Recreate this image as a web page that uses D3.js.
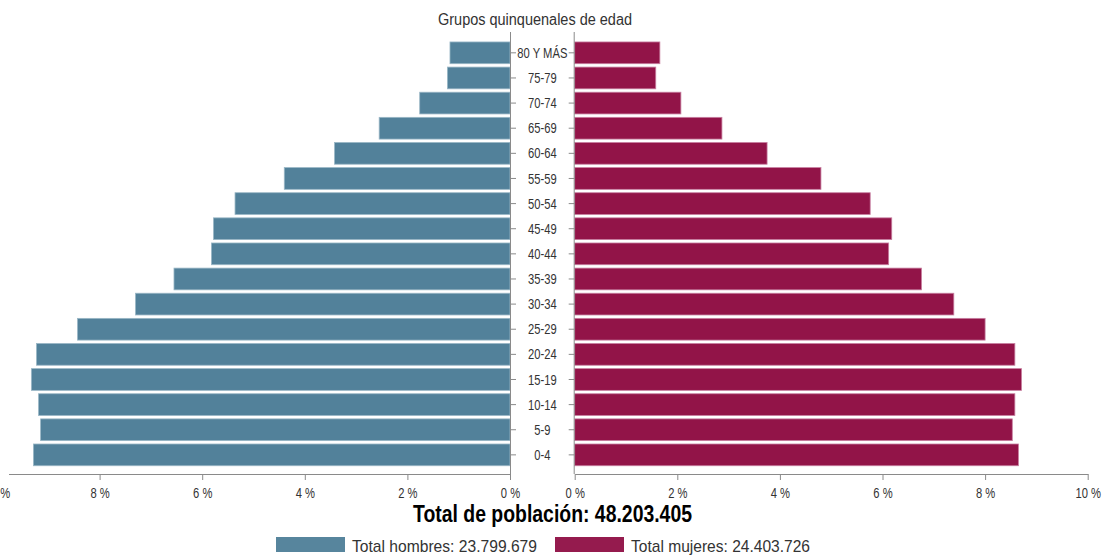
<!DOCTYPE html>
<html><head><meta charset="utf-8">
<script src="https://cdn.jsdelivr.net/npm/d3@7"></script>
<style>
html,body{margin:0;padding:0;background:#fff;}
svg{display:block;}
text{font-family:"Liberation Sans",Arial,sans-serif;}
</style></head>
<body>
<svg id="chart" width="1108" height="559"></svg>
<script>
const ageGroups = ["80 Y MÁS","75-79","70-74","65-69","60-64","55-59","50-54","45-49","40-44","35-39","30-34","25-29","20-24","15-19","10-14","5-9","0-4"];
const hombres = [1.17,1.22,1.76,2.55,3.42,4.40,5.36,5.78,5.82,6.55,7.30,8.43,9.23,9.33,9.19,9.15,9.29];
const mujeres = [1.66,1.58,2.07,2.87,3.75,4.80,5.76,6.18,6.12,6.76,7.39,8.00,8.58,8.71,8.58,8.53,8.65];
const xTicks = [0,2,4,6,8,10];
const chartTitle = "Grupos quinquenales de edad";
const totalLabel = "Total de población: 48.203.405";
const legendLabels = ["Total hombres: 23.799.679","Total mujeres: 24.403.726"];
const colors = {h:"#52819a", m:"#921448"};

const svg = d3.select("#chart");
const axisY = 474, topY = 32;
const xLeft = d3.scaleLinear().domain([0,10]).range([510,-3]);
const xRight = d3.scaleLinear().domain([0,10]).range([574.7,1087.7]);
const y = d3.scaleBand().domain(ageGroups).range([40.2,467.5]).paddingInner(0.135).paddingOuter(0.07);

function narrow(sel, factor){
  sel.each(function(){
    const len = this.getComputedTextLength();
    if(len>0) d3.select(this).attr("textLength",len*factor).attr("lengthAdjust","spacingAndGlyphs");
  });
}
function fitTo(sel, width){
  sel.attr("textLength",width).attr("lengthAdjust","spacingAndGlyphs");
}

// bars
svg.append("g").selectAll("rect").data(ageGroups).join("rect")
  .attr("x",(d,i)=>xLeft(hombres[i])).attr("y",d=>y(d))
  .attr("width",(d,i)=>xLeft(0)-xLeft(hombres[i])).attr("height",y.bandwidth())
  .attr("fill",colors.h).attr("stroke","#9ab7c6").attr("stroke-width",0.8);
svg.append("g").selectAll("rect").data(ageGroups).join("rect")
  .attr("x",xRight(0)).attr("y",d=>y(d))
  .attr("width",(d,i)=>xRight(mujeres[i])-xRight(0)).attr("height",y.bandwidth())
  .attr("fill",colors.m).attr("stroke","#c77fa0").attr("stroke-width",0.8);

const axisColor = "#8a8a8a", textColor = "#333";
function styleAxis(g){
  g.selectAll("path,line").attr("stroke",axisColor);
  g.selectAll("text").attr("fill",textColor).attr("font-size",14);
}
// bottom axes
const gl = svg.append("g").attr("transform",`translate(0,${axisY})`)
  .call(d3.axisBottom(xLeft).tickValues(xTicks).tickSize(6).tickSizeOuter(0).tickFormat(d=>d+" %"));
styleAxis(gl);
gl.select(".domain").attr("d",`M9,0.5H${xLeft(0)}`);
gl.selectAll("text").attr("dy","1.05em");
narrow(gl.selectAll("text"),0.8);
const gr = svg.append("g").attr("transform",`translate(0,${axisY})`)
  .call(d3.axisBottom(xRight).tickValues(xTicks).tickSize(6).tickSizeOuter(0).tickFormat(d=>d+" %"));
styleAxis(gr);
gr.selectAll("text").attr("dy","1.05em");
narrow(gr.selectAll("text"),0.8);

// vertical axes
const yl = svg.append("g").attr("transform",`translate(${xLeft(0)},0)`)
  .call(d3.axisRight(y).tickSize(6).tickSizeOuter(0).tickFormat(""));
styleAxis(yl);
yl.select(".domain").attr("d",`M0.5,${topY}V${axisY}`);
const yr = svg.append("g").attr("transform",`translate(${xRight(0)},0)`)
  .call(d3.axisLeft(y).tickSize(6).tickSizeOuter(0).tickFormat(""));
styleAxis(yr);
yr.select(".domain").attr("d",`M-0.5,${topY}V${axisY}`);

// category labels
const midX = (xLeft(0)+xRight(0))/2;
const cl = svg.append("g").selectAll("text").data(ageGroups).join("text")
  .attr("x",midX).attr("y",d=>y(d)+y.bandwidth()/2).attr("dy","0.36em")
  .attr("text-anchor","middle").attr("font-size",14).attr("fill",textColor)
  .text(d=>d);
narrow(cl,0.8);

// title
fitTo(svg.append("text").attr("x",535).attr("y",25).attr("text-anchor","middle")
  .attr("font-size",16).attr("fill",textColor).text(chartTitle),194);

// total
fitTo(svg.append("text").attr("x",552.5).attr("y",522).attr("text-anchor","middle")
  .attr("font-size",23).attr("font-weight","bold").attr("fill","#000").text(totalLabel),279);

// legend
const legend = [{x:276,c:colors.h,t:legendLabels[0],w:185},{x:555,c:colors.m,t:legendLabels[1],w:179}];
const lg = svg.append("g");
lg.selectAll("rect").data(legend).join("rect")
  .attr("x",d=>d.x).attr("y",537).attr("width",69).attr("height",15).attr("fill",d=>d.c).attr("opacity",0.97);
lg.selectAll("text").data(legend).join("text")
  .attr("x",d=>d.x+76).attr("y",552).attr("font-size",17).attr("fill",textColor)
  .attr("textLength",d=>d.w).attr("lengthAdjust","spacingAndGlyphs").text(d=>d.t);
</script>
</body></html>
